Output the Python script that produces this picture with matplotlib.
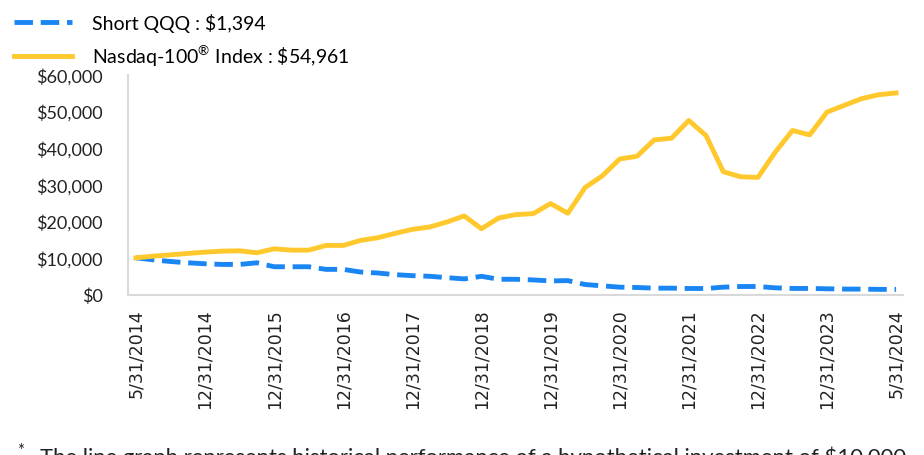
import numpy as np
import matplotlib.pyplot as plt
from matplotlib.ticker import FuncFormatter

plt.rcParams['font.family'] = 'Lato'
plt.rcParams['mathtext.fontset'] = 'custom'
plt.rcParams['mathtext.rm'] = 'Lato'

# growth of $10,000, one point per period
nasdaq = [10000, 10456, 10822, 11187, 11552, 11826, 11919, 11371, 12467, 12101,
          12101, 13382, 13382, 14749, 15483, 16669, 17765, 18408, 19775, 21424,
          17946, 20871, 21786, 22057, 24802, 22158, 29184, 32381, 36955, 37689,
          42163, 42625, 47461, 43349, 33487, 32110, 31929, 38785, 44726, 43540,
          49752, 51582, 53402, 54498, 54961]
short_qqq = [10000, 9450, 9000, 8650, 8380, 8200, 8200, 8650, 7570, 7570,
             7570, 6850, 6850, 6130, 5860, 5410, 5140, 4960, 4600, 4250,
             4960, 4150, 4150, 3970, 3700, 3790, 2720, 2360, 2000, 1910,
             1730, 1730, 1640, 1640, 2000, 2180, 2180, 1820, 1650, 1650,
             1560, 1480, 1470, 1400, 1394]
tick_labels = ['5/31/2014', '12/31/2014', '12/31/2015', '12/31/2016', '12/31/2017',
               '12/31/2018', '12/31/2019', '12/31/2020', '12/31/2021', '12/31/2022',
               '12/31/2023', '5/31/2024']

x = np.arange(len(nasdaq))

fig = plt.figure(figsize=(9.24, 4.56), dpi=100)
ax = fig.add_axes([128 / 924, 1 - 295.5 / 456, 775 / 924, 220 / 456])

ax.plot(x, short_qqq, color='#1A86F4', lw=3.5, dashes=(3.8, 1.6),
        solid_capstyle='butt', dash_capstyle='butt',
        label='Short QQQ : \\$1,394')
ax.plot(x, nasdaq, color='#FFC82C', lw=3.5,
        label='Nasdaq-100$^{\\mathrm{®}}$ Index : \\$54,961')

ax.set_xlim(-0.46, 44.4)
ax.set_ylim(0, 60000)
ax.set_yticks(np.arange(0, 60001, 10000))
ax.yaxis.set_major_formatter(FuncFormatter(lambda v, p: '\\${:,.0f}'.format(v)))
ax.set_xticks(np.arange(0, len(nasdaq), 4))
ax.set_xticklabels(tick_labels, rotation=90, family='DejaVu Sans', fontsize=12.5)
ax.tick_params(axis='y', length=0, pad=18, labelsize=13, colors='#222222')
ax.tick_params(axis='x', length=0, pad=10, colors='#222222')

for s in ['top', 'right']:
    ax.spines[s].set_visible(False)
for s in ['left', 'bottom']:
    ax.spines[s].set_color('#d9d9d9')
    ax.spines[s].set_linewidth(1.5)

fig.legend(loc='upper left', bbox_to_anchor=(14 / 924, 1 - 14 / 456),
           frameon=False, fontsize=14, handlelength=3.0, handletextpad=1.0,
           labelspacing=0.55, borderpad=0, borderaxespad=0)

fig.text(17 / 924, 1 - 443 / 456, '*', fontsize=12, va='top', color='#222222')
fig.text(40 / 924, 1 - 447 / 456,
         'The line graph represents historical performance of a hypothetical investment of \\$10,000',
         fontsize=15.9, va='top', color='#222222')

fig.savefig('out.png', dpi=100)
